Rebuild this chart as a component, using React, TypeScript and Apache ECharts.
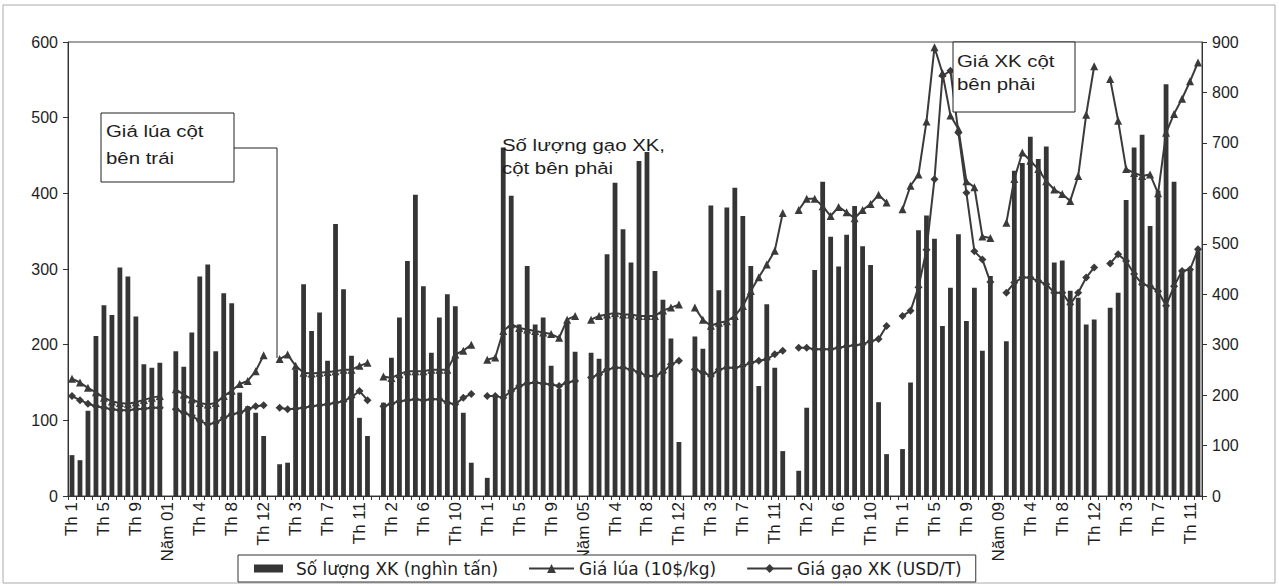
import React, { useEffect, useRef } from "react";
import * as echarts from "echarts";

// Month labels and year separators (one empty separator category between years)
const monthLabels = ["Th 1", "Th 2", "Th 3", "Th 4", "Th 5", "Th 6", "Th 7", "Th 8", "Th 9", "Th 10", "Th 11", "Th 12"];
const separatorLabels = ["Năm 01", "Năm 02", "Năm 03", "Năm 04", "Năm 05", "Năm 06", "Năm 07", "Năm 08", "Năm 09", "Năm 10"];

// Số lượng XK (nghìn tấn) – right axis, 2000..2010
const exportVolume: number[][] = [
  [81, 71, 169, 317, 378, 359, 453, 435, 356, 261, 254, 264],
  [287, 256, 324, 435, 459, 287, 402, 382, 205, 178, 165, 119],
  [63, 66, 251, 420, 327, 364, 268, 539, 410, 278, 155, 119],
  [185, 274, 354, 466, 597, 416, 284, 354, 400, 376, 165, 66],
  [36, 198, 691, 595, 340, 456, 340, 354, 258, 212, 344, 286],
  [284, 272, 479, 621, 529, 463, 664, 682, 446, 389, 312, 107],
  [316, 292, 576, 408, 572, 611, 555, 456, 218, 380, 254, 89],
  [50, 175, 448, 623, 514, 455, 518, 575, 495, 458, 186, 83],
  [93, 225, 527, 556, 510, 337, 413, 519, 347, 413, 288, 436],
  [307, 645, 660, 712, 668, 693, 463, 467, 407, 393, 340, 350],
  [373, 403, 587, 691, 716, 535, 605, 816, 623, 449, 449, 485],
];

// Giá lúa (10đ/kg) – left axis
const paddyPrice: number[][] = [
  [155, 150, 143, 137, 130, 125, 123, 122, 124, 127, 130, 132],
  [141, 134, 128, 123, 121, 123, 132, 139, 148, 152, 165, 186],
  [181, 187, 172, 163, 162, 163, 164, 165, 167, 167, 172, 176],
  [158, 156, 161, 165, 165, 165, 167, 167, 167, 187, 192, 200],
  [180, 183, 218, 227, 222, 220, 218, 216, 214, 209, 233, 238],
  [233, 238, 240, 242, 240, 240, 238, 238, 238, 245, 249, 253],
  [249, 233, 225, 229, 231, 238, 251, 271, 289, 306, 324, 374],
  [378, 393, 393, 383, 370, 382, 375, 367, 378, 386, 398, 388],
  [379, 410, 425, 495, 593, 559, 503, 485, 416, 408, 343, 341],
  [361, 419, 454, 443, 432, 416, 405, 399, 390, 423, 504, 568],
  [551, 496, 432, 427, 423, 425, 400, 480, 505, 525, 548, 573],
];

// Giá gạo XK (USD/T) – right axis
const exportPrice: number[][] = [
  [198, 190, 183, 178, 175, 172, 170, 170, 172, 173, 175, 175],
  [172, 165, 159, 149, 142, 145, 155, 162, 165, 172, 178, 180],
  [175, 172, 173, 175, 178, 180, 182, 185, 188, 196, 208, 190],
  [178, 183, 188, 190, 192, 190, 192, 192, 185, 182, 195, 202],
  [198, 198, 195, 208, 218, 223, 225, 223, 221, 218, 225, 228],
  [235, 241, 251, 254, 254, 251, 245, 238, 238, 245, 261, 268],
  [251, 245, 238, 251, 254, 254, 258, 264, 268, 271, 281, 288],
  [294, 294, 291, 291, 291, 294, 297, 299, 301, 307, 311, 337],
  [357, 367, 414, 488, 628, 833, 843, 720, 601, 485, 469, 424],
  [403, 423, 433, 433, 426, 420, 403, 403, 380, 403, 433, 453],
  [461, 479, 466, 440, 420, 416, 406, 377, 416, 446, 449, 489],
];

const leftTicks = { min: 0, max: 600, interval: 100 };
const rightTicks = { min: 0, max: 900, interval: 100 };

const seriesNames = ["Số lượng XK (nghìn tấn)", "Giá lúa (10$/kg)", "Giá gạo XK (USD/T)"];

function buildCategories(): string[] {
  const cats: string[] = [];
  exportVolume.forEach((_, y) => {
    monthLabels.forEach((m) => cats.push(m));
    if (y < separatorLabels.length) cats.push(separatorLabels[y]);
  });
  return cats;
}

function flatten(rows: number[][]): (number | null)[] {
  const out: (number | null)[] = [];
  rows.forEach((row, y) => {
    row.forEach((v) => out.push(v));
    if (y < rows.length - 1) out.push(null);
  });
  return out;
}

const FONT = "'Liberation Sans', Arial, sans-serif";
const WIDE_FONT = "'DejaVu Sans', 'Liberation Sans', sans-serif";
const INK = "#1e1e1e";
const BAR_ICON = "path://M0,0L0.01,0L0.01,0.01ZM45,11L45.01,11L45.01,11.01ZM8,1.5L37,1.5L37,9.5L8,9.5Z";

export default function App() {
  const ref = useRef<HTMLDivElement>(null);

  useEffect(() => {
    if (!ref.current) return;
    const chart = echarts.init(ref.current, undefined, { renderer: "svg" });
    const categories = buildCategories();

    chart.setOption({
      animation: false,
      backgroundColor: "#ffffff",
      textStyle: { fontFamily: FONT, color: INK },
      grid: {
        left: 68,
        right: 77,
        top: 42,
        bottom: 90,
        show: true,
        borderColor: "#444",
        borderWidth: 1,
        containLabel: false,
      },
      legend: {
        left: 238,
        top: 555,
        orient: "horizontal",
        backgroundColor: "#ffffff",
        borderColor: "#333",
        borderWidth: 1,
        padding: [5, 14, 5, 8],
        itemGap: 30,
        itemWidth: 45,
        itemHeight: 11,
        textStyle: { fontSize: 17, color: INK, fontFamily: WIDE_FONT },
        data: [
          { name: seriesNames[0], icon: BAR_ICON },
          { name: seriesNames[1] },
          { name: seriesNames[2] },
        ],
      },
      xAxis: {
        type: "category",
        data: categories,
        boundaryGap: true,
        axisLine: { show: true, lineStyle: { color: "#333", width: 1 } },
        axisTick: { show: true, interval: 0, length: 4, lineStyle: { color: "#333" } },
        axisLabel: {
          interval: 3,
          rotate: 90,
          fontSize: 17,
          color: INK,
          fontFamily: FONT,
          margin: 6,
        },
        splitLine: { show: false },
      },
      yAxis: [
        {
          type: "value",
          position: "left",
          min: leftTicks.min,
          max: leftTicks.max,
          interval: leftTicks.interval,
          axisLine: { show: true, lineStyle: { color: "#333" } },
          axisTick: { show: true, length: 5, lineStyle: { color: "#333" } },
          axisLabel: { fontSize: 16, color: INK, fontFamily: FONT, margin: 10 },
          splitLine: { show: false },
        },
        {
          type: "value",
          position: "right",
          min: rightTicks.min,
          max: rightTicks.max,
          interval: rightTicks.interval,
          axisLine: { show: true, lineStyle: { color: "#333" } },
          axisTick: { show: true, length: 5, lineStyle: { color: "#333" } },
          axisLabel: { fontSize: 16, color: INK, fontFamily: FONT, margin: 10 },
          splitLine: { show: false },
        },
      ],
      series: [
        {
          name: seriesNames[0],
          type: "bar",
          yAxisIndex: 1,
          data: flatten(exportVolume),
          barWidth: "60%",
          itemStyle: { color: "#353535" },
          z: 2,
        },
        {
          name: seriesNames[1],
          type: "line",
          yAxisIndex: 0,
          data: flatten(paddyPrice),
          connectNulls: false,
          symbol: "triangle",
          symbolSize: 8,
          showAllSymbol: true,
          lineStyle: { color: "#3a3a3a", width: 2 },
          itemStyle: { color: "#3a3a3a" },
          z: 4,
        },
        {
          name: seriesNames[2],
          type: "line",
          yAxisIndex: 1,
          data: flatten(exportPrice),
          connectNulls: false,
          symbol: "diamond",
          symbolSize: 8,
          showAllSymbol: true,
          lineStyle: { color: "#3a3a3a", width: 2 },
          itemStyle: { color: "#3a3a3a" },
          z: 4,
        },
      ],
      graphic: [
        {
          type: "rect",
          z: 0,
          shape: { x: 3, y: 5, width: 1272, height: 578 },
          style: { fill: "none", stroke: "#aaa", lineWidth: 1 },
          silent: true,
        },
        {
          type: "rect",
          z: 10,
          shape: { x: 101, y: 113, width: 133, height: 69 },
          style: { fill: "#fff", stroke: "#222", lineWidth: 1 },
        },
        {
          type: "text",
          z: 11,
          x: 106,
          y: 118,
          scaleX: 1.2,
          style: { text: "Giá lúa cột\nbên trái", fontSize: 17, lineHeight: 27, fill: INK, fontFamily: FONT },
        },
        {
          type: "polyline",
          z: 10,
          shape: { points: [[234, 148], [277, 148], [277, 358]] },
          style: { stroke: "#222", lineWidth: 1, fill: "none" },
        },
        {
          type: "text",
          z: 11,
          x: 502,
          y: 134,
          scaleX: 1.2,
          style: { text: "Số lượng gạo XK,\ncột bên phải", fontSize: 17, lineHeight: 23, fill: INK, fontFamily: FONT },
        },
        {
          type: "rect",
          z: 10,
          shape: { x: 953, y: 42, width: 122, height: 70 },
          style: { fill: "#fff", stroke: "#222", lineWidth: 1 },
        },
        {
          type: "text",
          z: 11,
          x: 957,
          y: 50,
          scaleX: 1.2,
          style: { text: "Giá XK cột\nbên phải", fontSize: 17, lineHeight: 23, fill: INK, fontFamily: FONT },
        },
      ],
    });

    return () => chart.dispose();
  }, []);

  return (
    <div
      ref={ref}
      style={{ position: "fixed", left: 0, top: 0, width: 1279, height: 586 }}
    />
  );
}
